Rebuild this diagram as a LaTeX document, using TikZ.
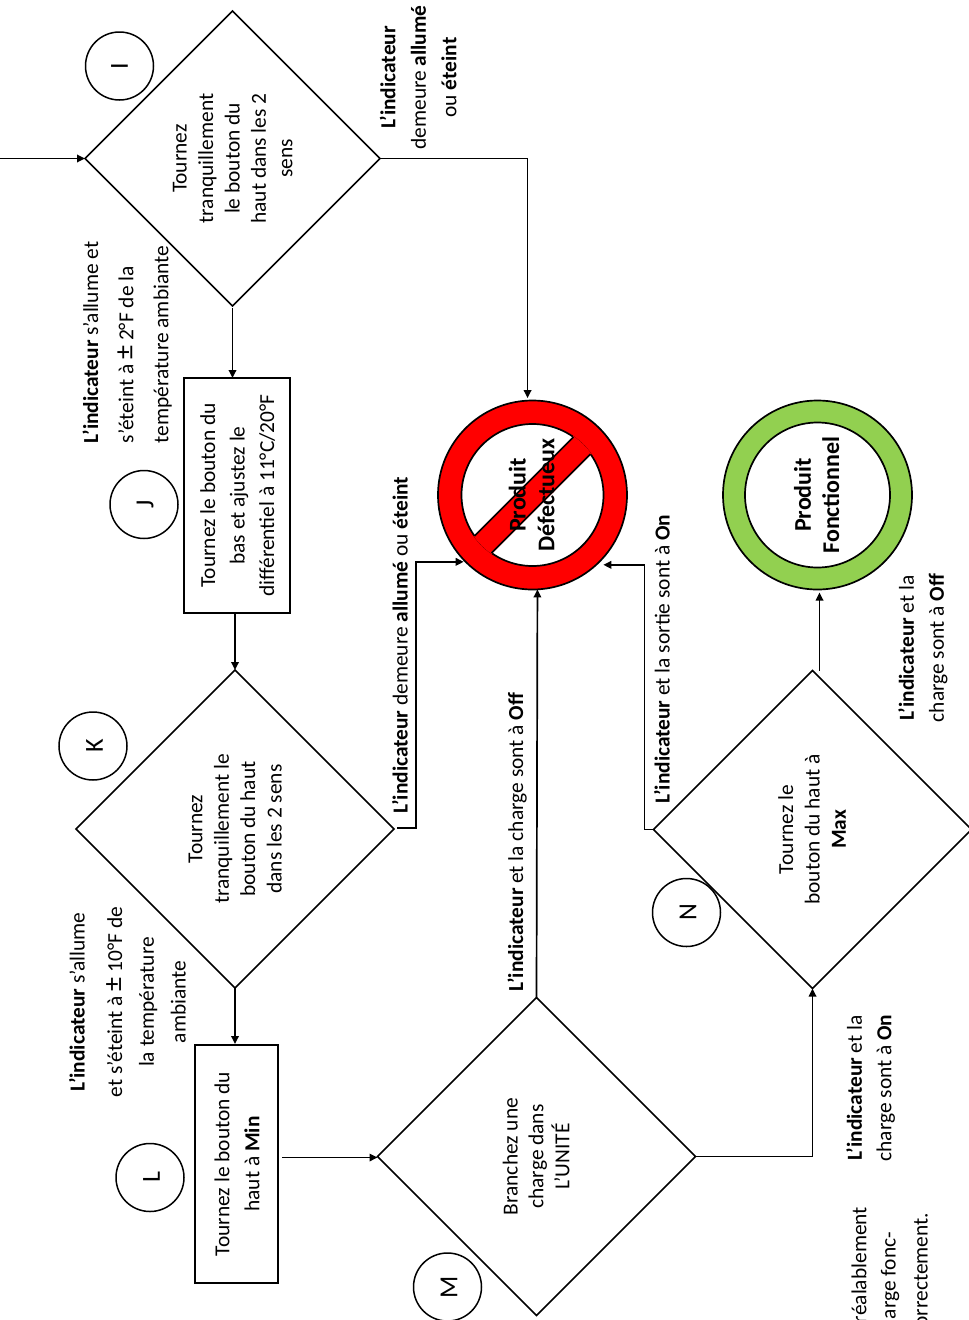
\documentclass[tikz,border=0pt]{standalone}
\usepackage{fontspec}
\usepackage{graphicx}
\setmainfont{Carlito}
\usetikzlibrary{shapes.geometric,arrows.meta,calc}
\definecolor{okgreen}{HTML}{92D050}
\newcommand{\rottext}[3][1.1]{\hspace*{3.5pt}\rotatebox{90}{\def\arraystretch{#1}\begin{tabular}{@{}#2@{}}#3\end{tabular}}}
\newcommand{\plusminus}{{\fontsize{28}{24}\selectfont ±}}
\tikzset{
  every node/.style={font=\fontsize{21.4}{24}\selectfont, inner sep=0pt, outer sep=0pt},
  decision/.style={diamond, draw=black, line width=1.7pt, shape aspect=1},
  action/.style={rectangle, draw=black, line width=1.7pt},
  lettermark/.style={circle, draw=black, line width=1.5pt, minimum size=68pt, font=\fontsize{26}{26}\selectfont},
  flow/.style={draw=black, line width=1.7pt, -{Triangle[length=8pt,width=7.5pt]}},
  plainlabel/.style={align=center},
  nosign/.style={circle, draw=black, line width=1.7pt, fill=red, minimum size=189pt, font=\bfseries\fontsize{24}{24}\selectfont,
    path picture={
      \draw[black, fill=white, line width=1.7pt] (path picture bounding box.center) circle[radius=71pt];
      \begin{scope}
        \clip (path picture bounding box.center) circle[radius=71.8pt];
        \fill[red] ([shift={(46pt,64pt)}]path picture bounding box.center) -- ([shift={(-64pt,-46pt)}]path picture bounding box.center) -- ([shift={(-46pt,-64pt)}]path picture bounding box.center) -- ([shift={(64pt,46pt)}]path picture bounding box.center) -- cycle;
      \end{scope}
      \draw[black, line width=1.7pt] ([shift={(41pt,58pt)}]path picture bounding box.center) -- ([shift={(-58pt,-41pt)}]path picture bounding box.center);
      \draw[black, line width=1.7pt] ([shift={(-41pt,-58pt)}]path picture bounding box.center) -- ([shift={(58pt,41pt)}]path picture bounding box.center);
    }},
  oksign/.style={circle, draw=black, line width=1.7pt, fill=okgreen, minimum size=189pt, font=\bfseries\fontsize{24}{24}\selectfont,
    path picture={
      \draw[black, fill=white, line width=1.7pt] (path picture bounding box.center) circle[radius=72.5pt];
    }}
}
\begin{document}
\begin{tikzpicture}[x=1pt,y=-1pt]
\useasboundingbox (0,0) rectangle (969,1320);
\coordinate (entry) at (0,158.5);

% decisions
\node[decision, minimum width=295pt, minimum height=295pt] (I) at (232.5,158.5) {\rottext[1.1]{c}{Tournez\\tranquillement\\le bouton du\\haut dans les 2\\sens}};
\node[decision, minimum width=318pt, minimum height=318pt] (K) at (235,829) {\rottext[1.1]{c}{Tournez\\tranquillement le\\bouton du haut\\dans les 2 sens}};
\node[decision, minimum width=318pt, minimum height=318pt] (M) at (536.5,1156.5) {\rottext[1.08]{c}{Branchez une\\charge dans\\L’UNITÉ}};
\node[decision, minimum width=318pt, minimum height=318pt] (N) at (812.5,829.5) {\rottext[1.1]{c}{Tournez le\\bouton du haut à\\\textbf{Max}}};

% actions
\node[action, minimum width=106.5pt, minimum height=235pt] (J) at (237,495.5) {\rottext[1.23]{c}{Tournez le bouton du\\bas et ajustez le\\différentiel à 11°C/20°F}};
\node[action, minimum width=83.5pt, minimum height=238pt] (L) at (236.5,1164) {\rottext[1.25]{c}{Tournez le bouton du\\haut à \textbf{Min}}};

% outcomes
\node[nosign] (bad) at (532.5,495) {\rottext[1.2]{c}{Produit\\Défectueux}};
\node[oksign] (good) at (817.5,495) {\rottext[1.18]{c}{Produit\\Fonctionnel}};

% letter marks
\node[lettermark] (mI) at (119.5,66) {\rotatebox{90}{I}};
\node[lettermark] (mJ) at (144,504.5) {\hspace*{2pt}\rotatebox{90}{J}};
\node[lettermark] (mK) at (93,746) {\hspace*{3pt}\rotatebox{90}{K}};
\node[lettermark] (mL) at (150,1177.5) {\hspace*{3pt}\rotatebox{90}{L}};
\node[lettermark] (mM) at (447.5,1287) {\hspace*{3pt}\rotatebox{90}{M}};
\node[lettermark] (mN) at (686.5,912.5) {\hspace*{3pt}\rotatebox{90}{N}};

% connectors
\draw[flow] (entry) -- (I.west);
\draw[flow] (I.east) -| ($(bad.93)+(0,-2.5)$);
\draw[flow] ($(I.south)+(0,2)$) -- (I.south |- J.north);
\draw[flow] (K.north |- J.south) -- (K.north);
\draw[flow] (K.south) -- ($(K.south |- L.north)+(0,-1)$);
\draw[flow] ($(L.east |- M.west)+(4,1)$) -- ($(M.west)+(0,1)$);
\draw[flow] ($(K.east)+(3,-1)$) -- ++(19,0) |- ($(bad.225)+(-2,0)$);
\draw[flow] (M.north) -- (bad.-87);
\draw[flow] (M.east) -| (N.south);
\draw[flow] (N.west) -- ++(-9,0) |- ($(bad.-45)+(4,3)$);
\draw[flow] ($(N.north)+(7,0)$) -- ($(good.south)+(2,3)$);

% condition labels
\node[plainlabel] (t1) at (418,77.5) {\rottext[1.27]{c}{\textbf{L’indicateur}\\demeure \textbf{allumé}\\ou \textbf{éteint}}};
\node[anchor=south] (t2) at (124.5,443) {\rottext[1.46]{l}{\textbf{L’indicateur} s’allume et\\s’éteint à \plusminus{} 2°F de la\\température ambiante}};
\node[plainlabel] (t3) at (127,1002) {\rottext[1.32]{c}{\textbf{L’indicateur} s’allume\\[6pt]et s’éteint à \plusminus{} 10°F de\\la température\\ambiante}};
\node[plainlabel] (t4) at (400.5,645) {\rottext{c}{\textbf{L’indicateur} demeure \textbf{allumé} ou \textbf{éteint}}};
\node[plainlabel] (t5) at (516,842) {\rottext{c}{\textbf{L’indicateur} et la charge sont à \textbf{Off}}};
\node[plainlabel] (t6) at (662.5,659) {\rottext{c}{\textbf{L’indicateur} et la sortie sont à \textbf{On}}};
\node[plainlabel] (t7) at (921,648) {\rottext[1.25]{c}{\textbf{L’indicateur} et la\\charge sont à \textbf{Off}}};
\node[plainlabel] (t8) at (869,1088) {\rottext[1.22]{c}{\textbf{L’indicateur} et la\\charge sont à \textbf{On}}};

% text cut by the page edge
\node[anchor=north] (c1) at (859,1207) {\rotatebox{90}{réalablement}};
\node[anchor=north] (c2) at (890,1232) {\rotatebox{90}{arge fonc-}};
\node[anchor=north] (c3) at (921,1213) {\rotatebox{90}{orrectement.}};
\end{tikzpicture}
\end{document}
